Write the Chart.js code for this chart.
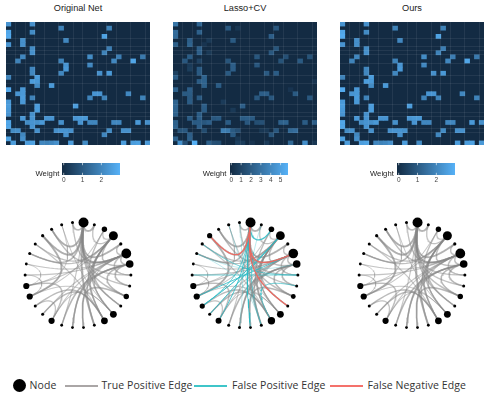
<!DOCTYPE html>
<html>
<head>
<meta charset="utf-8">
<script src="https://cdn.jsdelivr.net/npm/chart.js@4"></script>
<style>
  html, body { margin: 0; padding: 0; background: #fff; }
  body { width: 488px; height: 396px; position: relative; overflow: hidden; font-family: "Liberation Sans", sans-serif; color: #222; }
  canvas { position: absolute; filter: blur(0.35px); }
  .title { position: absolute; top: 3px; width: 120px; text-align: center; font-size: 9.2px; line-height: 11px; }
  .weight { position: absolute; top: 169px; font-size: 7.7px; line-height: 10px; color: #222; }
  .leg { position: absolute; top: 378px; font-family: "Open Sans", sans-serif; font-size: 10.5px; line-height: 15px; color: #333; white-space: nowrap; letter-spacing: 0.08px; }
  .legline { position: absolute; top: 384.5px; height: 2.5px; }
</style>
</head>
<body>
<script>
// [column, weight] per heatmap row, row 0 on top
var originalRows = [
  [[0,2.4],[5,2.3]],
  [[11,2.0],[21,2.0]],
  [[0,2.8],[5,2.2]],
  [[0,2.9],[20,2.7]],
  [[3,2.3],[12,2.1]],
  [[0,2.4],[3,2.3]],
  [[5,2.2],[21,1.9]],
  [[5,2.3],[20,2.0]],
  [[3,2.1],[17,2.2],[23,1.9],[28,1.8]],
  [[2,2.0],[11,2.0],[22,2.1],[26,2.8]],
  [[12,2.4],[17,2.1]],
  [[5,2.1],[12,2.5]],
  [[5,2.1],[11,2.1],[19,2.3],[21,2.5]],
  [[0,2.0],[6,2.6]],
  [[5,2.6],[6,2.5]],
  [[6,2.2],[9,2.5]],
  [[0,2.9],[3,2.5]],
  [[2,2.4],[3,2.5],[18,2.4],[19,2.4],[25,2.1]],
  [[3,2.6],[5,2.0],[17,2.0],[20,2.0],[28,2.0]],
  [[0,2.5],[3,2.5]],
  [[0,2.6],[6,2.6],[14,2.6]],
  [[0,2.5],[6,2.6]],
  [[0,2.4],[5,2.3]],
  [[3,2.5],[5,2.4],[8,2.4],[9,2.4],[14,2.4],[15,2.5],[16,2.5]],
  [[0,2.8],[4,2.2],[5,2.4],[6,2.3],[7,2.5],[11,2.3],[15,2.4],[17,2.1],[18,2.1],[22,2.1],[23,2.1],[27,2.5],[29,2.3]],
  [[0,2.8],[5,2.4]],
  [[1,2.2],[2,2.3],[6,2.3],[10,2.3],[11,2.4],[12,2.4],[13,2.3],[21,2.2],[24,2.3],[25,2.3]],
  [[3,2.1],[12,2.3],[20,2.1]],
  [[0,2.7],[3,2.3]],
  [[1,2.6],[4,2.6],[5,2.7],[7,2.1],[8,2.0],[9,2.1],[10,2.3],[13,2.6],[16,2.2],[24,2.6],[26,2.6],[27,2.7],[29,2.5]]
];
var lassoRows = [
  [[0,3.2],[5,2.5]],
  [[11,2.0],[21,1.9],[13,0.5]],
  [[0,2.8],[5,2.3]],
  [[0,2.7],[20,2.2]],
  [[3,2.2],[12,2.0],[7,0.6]],
  [[0,2.3],[3,2.4],[6,0.4]],
  [[5,2.2],[21,1.8]],
  [[5,2.2],[20,1.9],[7,0.6]],
  [[3,2.1],[17,1.9],[23,1.6],[28,1.7]],
  [[2,1.9],[11,1.8],[22,1.7],[26,2.0],[5,1.0]],
  [[12,2.2],[17,1.9],[3,0.7]],
  [[5,2.0],[12,2.2],[3,0.8]],
  [[5,2.0],[11,2.0],[19,2.0],[21,2.1],[0,0.9]],
  [[0,2.1],[6,2.4]],
  [[5,2.1],[6,2.4],[29,0.4]],
  [[6,2.3],[9,2.1]],
  [[0,2.3],[3,2.2],[24,0.4]],
  [[2,2.0],[3,2.1],[18,2.2],[19,2.2],[25,2.0]],
  [[3,2.0],[5,2.0],[17,1.9],[20,1.9],[28,1.9]],
  [[0,2.4],[3,2.1],[10,0.7]],
  [[0,2.5],[6,2.2],[14,2.2]],
  [[0,2.4],[6,2.1],[12,0.6]],
  [[0,2.3],[5,2.1]],
  [[3,2.1],[5,2.2],[8,1.9],[9,2.0],[14,2.1],[15,2.2],[16,2.0]],
  [[0,2.3],[4,2.0],[5,2.1],[6,1.9],[7,2.2],[11,2.1],[15,1.9],[17,1.5],[18,1.6],[22,2.3],[23,2.4],[27,2.1],[29,2.2]],
  [[0,2.4],[5,2.2]],
  [[1,1.8],[2,1.9],[6,1.4],[10,3.6],[11,3.4],[12,2.0],[13,1.6],[18,0.5],[19,0.6],[21,1.9],[24,2.6],[25,2.8]],
  [[3,2.2],[12,2.0],[20,1.8]],
  [[0,2.3],[3,2.3],[13,0.5]],
  [[1,4.4],[2,1.6],[4,5.7],[7,2.3],[8,1.6],[9,1.5],[13,0.9],[14,0.8],[16,0.4],[19,0.7],[24,2.6],[27,4.3],[29,0.5]]
];
var oursRows = originalRows;

// grid lines of the heatmap panels
var gridCols = [2, 4, 6, 8, 11, 14, 16, 19, 21, 23, 26, 29];
var gridRows = [4, 6, 7, 8, 10, 13, 15, 20, 22, 23, 26, 27];

// colour bars
var originalTicks = [0, 1, 2];
var lassoTicks = [0, 1, 2, 3, 4, 5];
var oursTicks = [0, 1, 2];
var originalRange = [-0.09, 2.99];
var lassoRange = [-0.13, 5.75];
var oursRange = [-0.09, 2.99];

// node radius, clockwise from the top
var originalNodes = [5, 1.5, 2.7, 4.5, 1.6, 4.9, 3.8, 1.5, 1.5, 2.7, 1.5, 3.4, 3.4, 1.4, 1.4, 1.4, 1.4, 3.1, 1.5, 1.5, 3.1, 3.1, 1.5, 1.4, 1.5, 1.5, 1.6, 1.5, 1.5, 1.5];
var lassoNodes = [5, 1.5, 2.8, 4.4, 1.6, 4.8, 3.8, 1.5, 1.5, 2.4, 1.5, 3.4, 3.7, 1.5, 1.4, 1.5, 1.5, 3, 1.5, 2.6, 3.1, 3.1, 1.5, 1.4, 1.5, 1.6, 2.6, 1.5, 1.6, 1.5];
var oursNodes = originalNodes;

var LOW = [19, 43, 67], HIGH = [86, 177, 247];
var GREY = "135,135,135", TEAL = "42,186,196", RED = "238,104,96";

function fill(t) {
  t = Math.max(0, Math.min(1, t));
  return "rgb(" + [0, 1, 2].map(function (i) { return Math.round(LOW[i] + (HIGH[i] - LOW[i]) * t); }).join(",") + ")";
}

function addCanvas(left, top, w, h) {
  var c = document.createElement("canvas");
  c.width = w; c.height = h;
  c.style.left = left + "px"; c.style.top = top + "px";
  c.style.width = w + "px"; c.style.height = h + "px";
  document.body.appendChild(c);
  return c;
}

function addText(cls, left, text) {
  var d = document.createElement("div");
  d.className = cls; d.style.left = left + "px"; d.textContent = text;
  document.body.appendChild(d);
  return d;
}

function drawHeatmap(left, rows, max) {
  var el = addCanvas(left, 22, 144, 123);
  el.style.background = fill(0);
  var cells = [];
  rows.forEach(function (row, r) {
    row.forEach(function (cell) { cells.push({ x: cell[0] + 0.5, y: [r, r + 1], v: cell[1] }); });
  });
  new Chart(el, {
    type: "bar",
    data: { datasets: [{ data: cells, barPercentage: 1, categoryPercentage: 1, borderWidth: 0,
      backgroundColor: function (ctx) { return ctx.raw ? fill(ctx.raw.v / max) : "transparent"; } }] },
    options: {
      responsive: false, animation: false, layout: { padding: 0 },
      plugins: { legend: { display: false }, tooltip: { enabled: false } },
      scales: {
        x: { type: "linear", offset: false, min: 0, max: 30, ticks: { display: false }, border: { display: false },
          afterBuildTicks: function (s) { s.ticks = gridCols.map(function (v) { return { value: v }; }); },
          grid: { offset: false, z: 1, drawTicks: false, color: "rgba(255,255,255,0.07)", lineWidth: 1 } },
        y: { type: "linear", reverse: true, min: 0, max: 30, beginAtZero: false, ticks: { display: false }, border: { display: false },
          afterBuildTicks: function (s) { s.ticks = gridRows.map(function (v) { return { value: v }; }); },
          grid: { z: 1, drawTicks: false, color: "rgba(255,255,255,0.07)", lineWidth: 1 } }
      }
    }
  });
}

var tickMarks = {
  id: "tickMarks",
  afterDatasetsDraw: function (chart) {
    var a = chart.chartArea, ctx = chart.ctx, s = chart.scales.x;
    ctx.save();
    ctx.strokeStyle = "#fff"; ctx.lineWidth = 0.6;
    s.ticks.forEach(function (t) {
      var x = s.getPixelForValue(t.value);
      ctx.beginPath();
      ctx.moveTo(x, a.top); ctx.lineTo(x, a.top + 2.2);
      ctx.moveTo(x, a.bottom - 2.2); ctx.lineTo(x, a.bottom);
      ctx.stroke();
    });
    ctx.restore();
  }
};

function drawColorBar(left, w, range, ticks) {
  var el = addCanvas(left - 10, 163, w + 20, 24);
  new Chart(el, {
    type: "bar",
    data: { labels: ["Weight"], datasets: [{ data: [range], barPercentage: 1, categoryPercentage: 1, borderWidth: 0,
      backgroundColor: function (ctx) {
        var a = ctx.chart.chartArea;
        if (!a) return fill(1);
        var g = ctx.chart.ctx.createLinearGradient(a.left, 0, a.right, 0);
        g.addColorStop(0, fill(0)); g.addColorStop(1, fill(1));
        return g;
      } }] },
    options: {
      indexAxis: "y", responsive: false, animation: false,
      layout: { padding: { left: 10, right: 10, top: 0, bottom: 0 } },
      plugins: { legend: { display: false }, tooltip: { enabled: false } },
      scales: {
        x: { type: "linear", min: range[0], max: range[1], grid: { display: false, drawTicks: false }, border: { display: false },
          afterBuildTicks: function (s) { s.ticks = ticks.map(function (v) { return { value: v }; }); },
          afterFit: function (s) { s.height = 12; },
          ticks: { padding: 1.5, maxRotation: 0, autoSkip: false, color: "#444", font: { family: "Liberation Sans", size: 6.5 } } },
        y: { display: false }
      }
    },
    plugins: [tickMarks]
  });
}

function nodeXY(p) {
  var a = (6 + 12 * p) * Math.PI / 180;
  return { x: Math.sin(a), y: Math.cos(a) };
}

// cubic curve leaving each node along its radius, pulled further in for wider chords
function edgePoints(p, q) {
  var a = nodeXY(p), b = nodeXY(q);
  var chord = Math.sqrt((a.x - b.x) * (a.x - b.x) + (a.y - b.y) * (a.y - b.y));
  var k = 1 - Math.min(0.8, 0.9 * chord);
  var pts = [];
  for (var i = 0; i <= 24; i++) {
    var t = i / 24, u = 1 - t;
    var w0 = u * u * u, w1 = 3 * u * u * t * k, w2 = 3 * u * t * t * k, w3 = t * t * t;
    pts.push({ x: w0 * a.x + w1 * a.x + w2 * b.x + w3 * b.x, y: w0 * a.y + w1 * a.y + w2 * b.y + w3 * b.y });
  }
  return pts;
}

function edgeDataset(r, c, color, width, alpha) {
  return { type: "scatter", data: edgePoints(29 - r, c), showLine: true, pointRadius: 0, clip: false,
    borderColor: "rgba(" + color + "," + alpha + ")", borderWidth: width };
}

function weightOf(rows, r, c) {
  var w = 0;
  rows[r].forEach(function (cell) { if (cell[0] === c) w = cell[1]; });
  return w;
}

// cells become edges: grey when both matrices have them, teal only in the estimate, red only in the truth
function drawNetwork(cx, rows, nodes) {
  var grey = [], teal = [], red = [];
  originalRows.forEach(function (row, r) {
    row.forEach(function (cell) {
      if (29 - r === cell[0]) return;
      var k = Math.pow(cell[1] / 2.9, 3);
      var ds = edgeDataset(r, cell[0], GREY, 0.5 + k * 1.5, (0.16 + k * 0.3).toFixed(2));
      if (weightOf(rows, r, cell[0])) grey.push(ds);
      else red.push(edgeDataset(r, cell[0], RED, 1.3, 0.95));
    });
  });
  rows.forEach(function (row, r) {
    row.forEach(function (cell) {
      if (29 - r === cell[0] || weightOf(originalRows, r, cell[0])) return;
      teal.push(edgeDataset(r, cell[0], TEAL, 0.4 + cell[1] * 0.6, cell[1] < 0.55 ? 0.45 : 0.85));
    });
  });
  var points = nodes.map(function (s, p) { return nodeXY(p); });
  var el = addCanvas(cx - 66, 275 - 66, 132, 132);
  new Chart(el, {
    type: "scatter",
    data: { datasets: [{ data: points, pointRadius: nodes, pointBackgroundColor: "#000", pointBorderWidth: 0, clip: false }]
      .concat(red, teal, grey) },
    options: {
      responsive: false, animation: false, layout: { padding: 0 },
      plugins: { legend: { display: false }, tooltip: { enabled: false } },
      scales: {
        x: { type: "linear", display: false, min: -1.154, max: 1.154 },
        y: { type: "linear", display: false, min: -1.154, max: 1.154 }
      }
    }
  });
}

drawHeatmap(6, originalRows, 3.05);
drawHeatmap(173, lassoRows, 5.75);
drawHeatmap(340, oursRows, 3.05);

drawColorBar(62, 58, originalRange, originalTicks);
drawColorBar(230, 58, lassoRange, lassoTicks);
drawColorBar(397, 58, oursRange, oursTicks);

drawNetwork(77.5, originalRows, originalNodes);
drawNetwork(245, lassoRows, lassoNodes);
drawNetwork(412, oursRows, oursNodes);

addText("title", 18, "Original Net");
addText("title", 185, "Lasso+CV");
addText("title", 352, "Ours");
addText("weight", 35.5, "Weight");
addText("weight", 202.7, "Weight");
addText("weight", 370, "Weight");

// legend row
var dot = document.createElement("div");
dot.style.cssText = "position:absolute;left:12.5px;top:379px;width:13px;height:13px;border-radius:50%;background:#000";
document.body.appendChild(dot);
addText("leg", 29.5, "Node");
addText("legline", 64.5, "").style.cssText += ";width:33px;background:#aaa6a6";
addText("leg", 101.5, "True Positive Edge");
addText("legline", 194, "").style.cssText += ";width:33px;background:#3fc5c9";
addText("leg", 232, "False Positive Edge");
addText("legline", 329.5, "").style.cssText += ";width:33px;background:#f4716b";
addText("leg", 367.5, "False Negative Edge");
</script>
</body>
</html>
